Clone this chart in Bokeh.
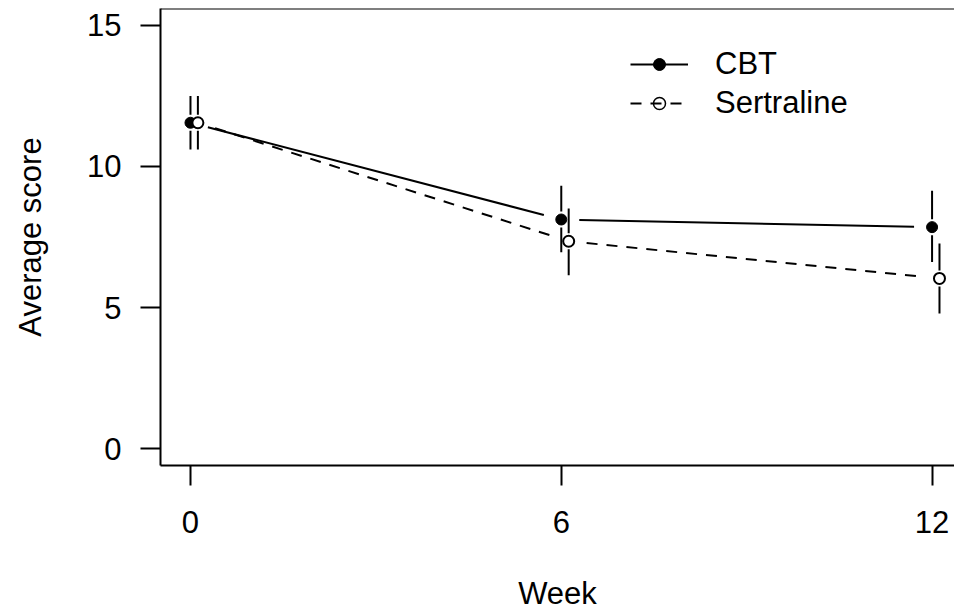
import math
from bokeh.plotting import figure
from bokeh.models import Range1d, Span, Legend, LegendItem, FixedTicker
from bokeh.embed import file_html
from bokeh.resources import INLINE

# ---- data ----
weeks = [0, 6, 12]
cbt_mean = [11.55, 8.12, 7.85]
cbt_upper = [12.50, 9.32, 9.14]
cbt_lower = [10.60, 6.96, 6.61]
sert_mean = [11.55, 7.35, 6.03]
sert_upper = [12.50, 8.51, 7.27]
sert_lower = [10.60, 6.14, 4.79]
sert_offset = 0.12
x_ticks = [0, 6, 12]
y_ticks = [0, 5, 10, 15]
series_labels = ["CBT", "Sertraline"]

# ---- layout ----
W, H = 954, 613
ML, MR, MT, MB = 160, 0, 8, 148
X_LO, X_HI = -0.485, 12.363
Y_LO, Y_HI = -0.6, 15.6
FW, FH = W - ML - MR, H - MT - MB
SX = FW / (X_HI - X_LO)
SY = FH / (Y_HI - Y_LO)
FONT = "Liberation Sans"
FS = "31px"

p = figure(width=W, height=H, x_range=Range1d(X_LO, X_HI), y_range=Range1d(Y_LO, Y_HI),
           output_backend="svg", toolbar_location=None,
           min_border_left=ML, min_border_right=MR, min_border_top=MT, min_border_bottom=MB)
p.grid.visible = False
p.outline_line_color = None
p.background_fill_color = "white"
p.border_fill_color = "white"

for ax in (p.xaxis, p.yaxis):
    ax.axis_line_width = 2
    ax.axis_line_color = "black"
    ax.major_tick_line_width = 2
    ax.major_tick_line_color = "black"
    ax.major_tick_in = 0
    ax.major_tick_out = 20
    ax.minor_tick_in = 0
    ax.minor_tick_out = 0
    ax.major_label_text_font = FONT
    ax.major_label_text_font_size = FS
    ax.major_label_text_color = "black"
    ax.axis_label_text_font = FONT
    ax.axis_label_text_font_size = FS
    ax.axis_label_text_font_style = "normal"
    ax.axis_label_text_color = "black"
p.xaxis.ticker = FixedTicker(ticks=x_ticks)
p.yaxis.ticker = FixedTicker(ticks=y_ticks)
p.xaxis.axis_label = "Week"
p.yaxis.axis_label = "Average score"
p.xaxis.major_label_standoff = 25
p.xaxis.axis_label_standoff = 40
p.yaxis.major_label_standoff = 19
p.yaxis.axis_label_standoff = 36

p.add_layout(Span(location=Y_HI, dimension="width", line_color="black", line_width=2))


def gapped_path(xs, ys, gap):
    a, b, c, d = [], [], [], []
    for i in range(len(xs) - 1):
        dx = (xs[i + 1] - xs[i]) * SX
        dy = (ys[i + 1] - ys[i]) * SY
        L = math.hypot(dx, dy)
        ux, uy = dx / L, dy / L
        a.append(xs[i] + gap * ux / SX)
        b.append(ys[i] + gap * uy / SY)
        c.append(xs[i + 1] - gap * ux / SX)
        d.append(ys[i + 1] - gap * uy / SY)
    return a, b, c, d


def err_bars(xs, m, lo, hi, gap):
    g = gap / SY
    x0 = list(xs) + list(xs)
    y0 = [mm + g for mm in m] + [mm - g for mm in m]
    y1 = list(hi) + list(lo)
    return x0, y0, x0, y1


cbt_x = weeks
sert_x = [w + sert_offset for w in weeks]
DASH = "11 9"

# connecting lines (type "b": gaps around points)
a, b, c, d = gapped_path(cbt_x, cbt_mean, 18)
cbt_line = p.segment(x0=a, y0=b, x1=c, y1=d, line_color="black", line_width=2)
a, b, c, d = gapped_path(sert_x, sert_mean, 18)
sert_line = p.segment(x0=a, y0=b, x1=c, y1=d, line_color="black", line_width=2, line_dash=DASH)

# error bars
a, b, c, d = err_bars(cbt_x, cbt_mean, cbt_lower, cbt_upper, 8)
p.segment(x0=a, y0=b, x1=c, y1=d, line_color="black", line_width=2)
a, b, c, d = err_bars(sert_x, sert_mean, sert_lower, sert_upper, 8)
p.segment(x0=a, y0=b, x1=c, y1=d, line_color="black", line_width=2)

# points
cbt_pts = p.scatter(x=cbt_x, y=cbt_mean, marker="circle", size=11, fill_color="black",
                    line_color="black", line_width=1)
p.scatter(x=sert_x, y=sert_mean, marker="circle", size=11, fill_color="white",
          line_color="black", line_width=2)
# legend-only open circle (hidden in the plot, unfilled so the dash shows through)
sert_leg_pt = p.scatter(x=sert_x, y=sert_mean, marker="circle", size=11, fill_alpha=0,
                        line_color="black", line_width=1.5, visible=False)

legend = Legend(items=[LegendItem(label=series_labels[0], renderers=[cbt_line, cbt_pts]),
                       LegendItem(label=series_labels[1], renderers=[sert_line, sert_leg_pt])],
                location=(470, 344), orientation="vertical",
                glyph_width=58, glyph_height=30, label_height=30, label_standoff=27,
                spacing=3, padding=0, margin=0,
                border_line_color=None, background_fill_alpha=0,
                label_text_font=FONT, label_text_font_size=FS, label_text_color="black")
p.add_layout(legend)

open("out.html", "w").write(file_html(p, INLINE))
